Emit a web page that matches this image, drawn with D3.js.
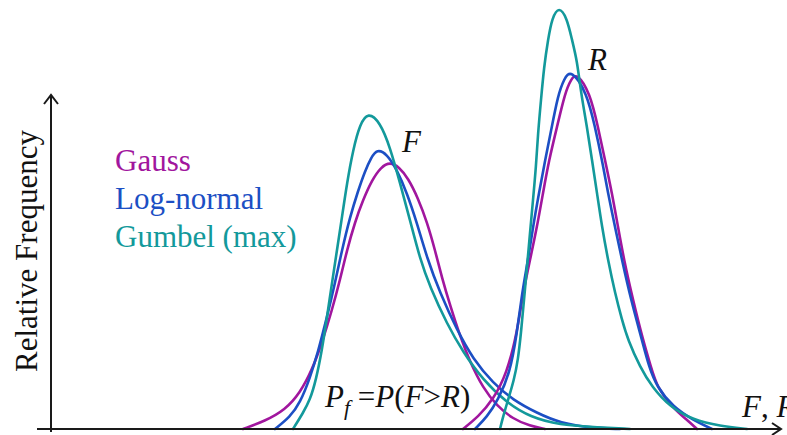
<!DOCTYPE html>
<html lang="en">
  <head>
    <meta charset="UTF-8">
    <script src="https://d3js.org/d3.v7.min.js"></script>
    <style>
      html,body{
        margin: 0px;
        background: #fff;
      }
      svg text{
        font-family: "Palatino Linotype", "Book Antiqua", Palatino, "Liberation Serif", serif;
      }
    </style>
  </head>
  <body>
    <svg id="chart" width="787" height="435"></svg>
  </body>
</html>
<script>
// distributions: load F (left group) and resistance R (right group)
var series = ["Gauss", "Log-normal", "Gumbel (max)"];
var colors = ["#a1169e", "#1c4fc4", "#13999b"];

// [x, relative frequency] (arbitrary units)
var fGauss = [[192,0],[214,8],[234,19],[249,36],[261,59],[271,86],[281,119],[289,149],[296,179],[304,207],[312,229],[321,249],[330,262],[339,267],[348,262],[357,251],[367,231],[376,207],[384,179],[391,151],[399,124],[409,93],[419,67],[432,41],[446,23],[462,10],[479,3],[494,0]];
var fLognormal = [[224,0],[239,12],[249,26],[259,51],[267,77],[276,112],[284,146],[291,179],[299,212],[307,238],[314,258],[320,271],[326,280],[336,275],[346,259],[356,236],[366,206],[376,171],[389,136],[406,99],[422,70],[442,46],[462,29],[486,16],[509,6],[542,1],[569,0]];
var fGumbel = [[242,0],[252,16],[259,29],[265,49],[271,79],[276,112],[281,146],[286,179],[291,212],[296,246],[302,279],[309,305],[317,317],[329,307],[339,282],[349,246],[359,209],[369,170],[379,142],[396,105],[412,77],[432,49],[456,26],[479,12],[509,4],[542,2],[579,0]];

var rGauss = [[412,0],[427,12],[442,29],[456,56],[466,96],[472,136],[479,169],[486,202],[492,236],[498,269],[506,302],[514,336],[520,350],[526,356],[539,336],[547,302],[554,269],[561,236],[567,202],[573,169],[582,129],[592,89],[600,62],[606,42],[621,22],[636,9],[646,0]];
var rLognormal = [[424,0],[436,12],[447,29],[459,56],[466,96],[471,136],[477,169],[482,202],[488,236],[494,268],[500,298],[507,334],[513,350],[520,360],[536,336],[544,302],[551,269],[557,236],[564,202],[571,169],[580,129],[591,89],[598,62],[606,42],[622,22],[642,9],[661,0]];
var rGumbel = [[449,0],[452,12],[457,29],[463,49],[467,69],[470,96],[473,129],[476,162],[479,196],[482,229],[485,262],[487,296],[490,329],[493,362],[497,389],[501,411],[508,423],[516,411],[521,389],[526,369],[530,336],[536,302],[541,269],[546,236],[551,202],[557,169],[564,136],[571,109],[577,89],[589,62],[601,42],[619,22],[642,9],[669,3],[696,0]];

var curves = [
  {dist: 0, values: fGauss}, {dist: 1, values: fLognormal}, {dist: 2, values: fGumbel},
  {dist: 0, values: rGauss}, {dist: 1, values: rLognormal}, {dist: 2, values: rGumbel}
];

var svg = d3.select("#chart"),
    width = +svg.attr("width"),
    height = +svg.attr("height");

var x = d3.scaleLinear().domain([0, 730]).range([51, 781]);
var y = d3.scaleLinear().domain([0, 420]).range([429, 9]);

var line = d3.line()
    .x(function(d){ return x(d[0]); })
    .y(function(d){ return y(d[1]); })
    .curve(d3.curveBasis);

// curves
svg.append("g").selectAll("path")
  .data(curves)
  .enter().append("path")
    .attr("d", function(d){ return line(d.values); })
    .attr("fill", "none")
    .attr("stroke", function(d){ return colors[d.dist]; })
    .attr("stroke-width", 2.6)
    .attr("stroke-linecap", "round");

// axes with open arrow heads
var axis = svg.append("g").attr("stroke", "#1a1a1a").attr("stroke-width", 2).attr("fill", "none");
axis.append("line")
    .attr("x1", x(-14)).attr("x2", x(730))
    .attr("y1", y(0)).attr("y2", y(0));
axis.append("line")
    .attr("x1", x(0)).attr("x2", x(0))
    .attr("y1", y(-3)).attr("y2", y(334));
axis.append("path")
    .attr("d", "M" + (x(0) - 7) + "," + (y(334) + 9) + "L" + x(0) + "," + y(334) + "L" + (x(0) + 7) + "," + (y(334) + 9))
    .attr("stroke-linejoin", "miter");
axis.append("path")
    .attr("d", "M" + (x(730) - 9) + "," + (y(0) - 6) + "L" + x(730) + "," + y(0) + "L" + (x(730) - 9) + "," + (y(0) + 6))
    .attr("stroke-linejoin", "miter");

// y label
svg.append("text")
    .attr("transform", "translate(37," + 251 + ") rotate(-90)")
    .attr("text-anchor", "middle")
    .attr("font-size", 31)
    .attr("fill", "#111")
    .text("Relative Frequency");

// legend
svg.append("g").selectAll("text")
  .data(series)
  .enter().append("text")
    .attr("x", 115)
    .attr("y", function(d, i){ return 171 + i * 38; })
    .attr("font-size", 31)
    .attr("fill", function(d, i){ return colors[i]; })
    .text(function(d){ return d; });

// annotations
svg.append("text").attr("x", 402).attr("y", 152).attr("font-size", 31)
    .attr("font-style", "italic").attr("fill", "#111").text("F");
svg.append("text").attr("x", 588).attr("y", 70).attr("font-size", 31)
    .attr("font-style", "italic").attr("fill", "#111").text("R");

var pf = svg.append("text").attr("x", 325).attr("y", 407).attr("font-size", 31).attr("fill", "#111");
pf.append("tspan").attr("font-style", "italic").text("P");
pf.append("tspan").attr("font-style", "italic").attr("font-size", 22).attr("dy", 8).text("f");
pf.append("tspan").attr("dy", -8).text(" =");
pf.append("tspan").attr("font-style", "italic").text("P");
pf.append("tspan").text("(");
pf.append("tspan").attr("font-style", "italic").text("F");
pf.append("tspan").text(">");
pf.append("tspan").attr("font-style", "italic").text("R");
pf.append("tspan").text(")");

// axis label runs off the right edge, as in the source figure
var fr = svg.append("text").attr("x", 742).attr("y", 417).attr("font-size", 31).attr("fill", "#111");
fr.append("tspan").attr("font-style", "italic").text("F");
fr.append("tspan").text(", ");
fr.append("tspan").attr("font-style", "italic").text("R");
</script>
